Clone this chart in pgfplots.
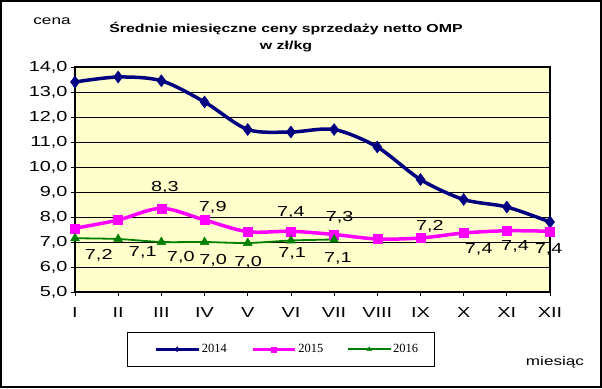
\documentclass[border=0pt]{standalone}
\usepackage{fontspec}
\setmainfont[FakeStretch=1.37]{Liberation Sans}
\newfontfamily\legfont{Liberation Serif}
\usepackage{pgfplots}
\pgfplotsset{compat=1.18}
\definecolor{plotbg}{HTML}{FFFFCC}
\definecolor{navy}{HTML}{000080}
\definecolor{mag}{HTML}{FF00FF}
\definecolor{grn}{HTML}{008000}
\begin{document}
\begin{tikzpicture}[x=1pt,y=1pt]
\draw[line width=2pt] (1,-1) rectangle (601,-387);
\node[font=\fontsize{12.5}{15}\selectfont] at (52,-21) {cena};
\node[font=\bfseries\fontsize{11.6}{14}\selectfont] at (286,-29) {Średnie miesięczne ceny sprzedaży netto OMP};
\node[font=\bfseries\fontsize{11.6}{14}\selectfont] at (286,-47) {w zł/kg};
\node[font=\fontsize{12.5}{15}\selectfont] at (555,-362) {miesiąc};
\begin{axis}[at={(75pt,-292pt)}, anchor=south west, scale only axis,
  width=475pt, height=225pt,
  xmin=1, xmax=12, ymin=5, ymax=14,
  clip=false,
  axis background/.style={fill=plotbg},
  ymajorgrids, major grid style={black, line width=0.8pt},
  axis line style={line width=1.2pt},
  xtick={1,...,12},
  xticklabels={I,II,III,IV,V,VI,VII,VIII,IX,X,XI,XII},
  ytick={5,...,14},
  tick align=outside, major tick length=4pt,
  tick style={black, line width=0.8pt},
  xtick pos=bottom, ytick pos=left,
  /pgf/number format/assume math mode=true,
  yticklabel style={/pgf/number format/.cd, fixed, fixed zerofill, precision=1, use comma},
  tick label style={font=\fontsize{14.5}{16}\selectfont},
  xticklabel style={yshift=-8pt},
  legend style={at={(axis description cs:0.1095,-0.1775)}, anchor=north west,
    draw=black, line width=0.8pt, font=\legfont\fontsize{12.5}{14}\selectfont,
    inner xsep=14pt, inner ysep=10pt},
  legend columns=3,
  legend image code/.code={\path (0pt,0pt); \draw[mark repeat=2,mark phase=2,#1,mark size=2.5pt] plot coordinates {(13pt,0pt) (34pt,0pt) (55pt,0pt)};},
]
\addplot[navy, line width=3.5pt, smooth, mark=diamond*, mark size=6pt, mark options={line width=0.5pt}]
  coordinates {(1,13.4) (2,13.6) (3,13.45) (4,12.6) (5,11.5) (6,11.4) (7,11.5) (8,10.8) (9,9.5) (10,8.7) (11,8.4) (12,7.8)};
\addlegendentry{\makebox[34pt][l]{2014}}
\addplot[mag, line width=3.5pt, smooth, mark=square*, mark size=4.5pt, mark options={line width=0.5pt}]
  coordinates {(1,7.55) (2,7.88) (3,8.35) (4,7.88) (5,7.41) (6,7.43) (7,7.3) (8,7.12) (9,7.16) (10,7.36) (11,7.45) (12,7.43)};
\addlegendentry{\makebox[34pt][l]{2015}}
\addplot[grn, line width=1.8pt, smooth, mark=triangle*, mark size=5pt, mark options={line width=0.5pt}]
  coordinates {(1,7.15) (2,7.12) (3,7.0) (4,7.0) (5,6.96) (6,7.06) (7,7.1)};
\addlegendentry{2016}
\addplot[draw=none, mark=none, forget plot, nodes near coords, point meta=explicit symbolic,
  every node near coord/.style={anchor=center, font=\fontsize{14.5}{16}\selectfont, inner sep=0pt}]
  table[meta=l] {
x y l
1.55 6.46 7,2
2.57 6.60 7,1
3.45 6.40 7,0
4.20 6.27 7,0
5.01 6.20 7,0
6.03 6.53 7,1
7.09 6.33 7,1
3.08 9.17 8,3
4.19 8.37 7,9
6.00 8.17 7,4
7.13 8.00 7,3
9.22 7.64 7,2
10.35 6.72 7,4
11.19 6.81 7,4
11.97 6.72 7,4
};
\end{axis}
\end{tikzpicture}
\end{document}
